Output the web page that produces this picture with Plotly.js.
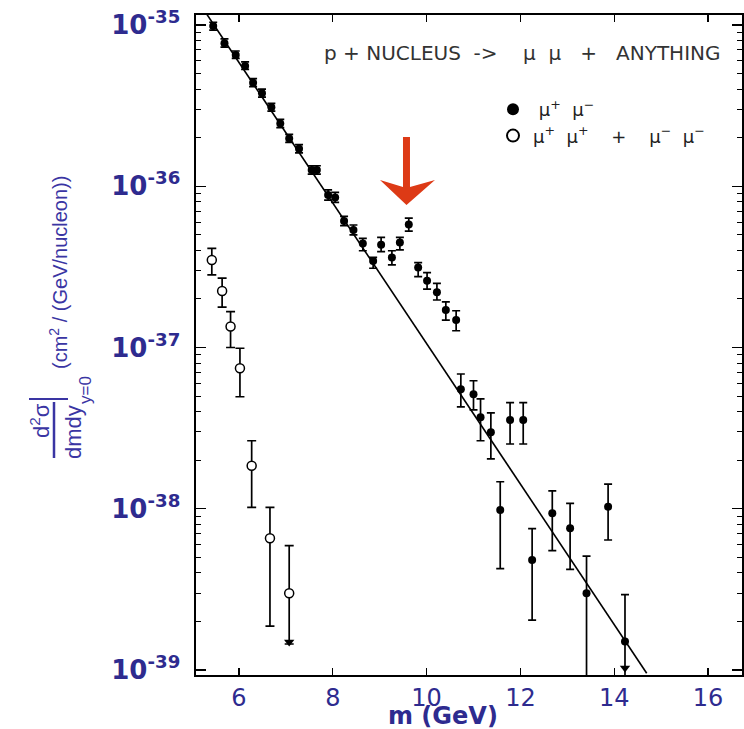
<!DOCTYPE html>
<html>
<head>
<meta charset="utf-8">
<script src="https://cdn.plot.ly/plotly-3.0.1.min.js"></script>
<style>html,body{margin:0;padding:0;background:#fff;}#chart{width:744px;height:729px;}</style>
</head>
<body>
<div id="chart"></div>
<script>
// ---- data: opposite-sign pairs (mu+ mu-) ----
const oppMass = [5.45,5.69,5.93,6.13,6.30,6.49,6.69,6.88,7.07,7.28,7.55,7.66,7.90,8.05,8.24,8.44,8.64,8.86,9.03,9.26,9.43,9.62,9.82,10.01,10.22,10.41,10.63,10.73,11.00,11.15,11.37,11.57,11.78,12.06,12.25,12.68,13.06,13.41,13.87,14.23];
const oppSigma = [9.86e-36,7.71e-36,6.52e-36,5.57e-36,4.39e-36,3.78e-36,3.09e-36,2.45e-36,1.98e-36,1.71e-36,1.26e-36,1.26e-36,8.83e-37,8.53e-37,6.08e-37,5.36e-37,4.42e-37,3.44e-37,4.33e-37,3.62e-37,4.48e-37,5.79e-37,3.13e-37,2.59e-37,2.20e-37,1.71e-37,1.48e-37,5.51e-38,5.13e-38,3.69e-38,2.98e-38,9.82e-39,3.55e-38,3.55e-38,4.81e-39,9.38e-39,7.57e-39,2.99e-39,1.03e-38,1.50e-39];
const oppHigh = [1.04e-35,8.2e-36,6.9e-36,5.9e-36,4.65e-36,4.0e-36,3.27e-36,2.6e-36,2.1e-36,1.81e-36,1.34e-36,1.34e-36,9.5e-37,9.15e-37,6.5e-37,5.75e-37,4.75e-37,3.62e-37,4.82e-37,3.98e-37,4.82e-37,6.35e-37,3.36e-37,2.91e-37,2.50e-37,1.92e-37,1.69e-37,6.85e-38,6.22e-38,4.80e-38,3.93e-38,1.47e-38,4.55e-38,4.55e-38,7.52e-39,1.29e-38,1.08e-38,5.09e-39,1.42e-38,2.93e-39];
const oppLow = [9.3e-36,7.3e-36,6.2e-36,5.3e-36,4.15e-36,3.57e-36,2.92e-36,2.31e-36,1.87e-36,1.61e-36,1.19e-36,1.19e-36,8.2e-37,7.95e-37,5.7e-37,5.0e-37,3.98e-37,3.10e-37,3.93e-37,3.25e-37,4.03e-37,5.27e-37,2.75e-37,2.30e-37,1.97e-37,1.48e-37,1.27e-37,4.28e-38,4.10e-38,2.64e-38,2.04e-38,4.25e-39,2.52e-38,2.52e-38,2.04e-39,5.50e-39,4.21e-39,5e-40,6.40e-39,5e-40];

// ---- data: like-sign pairs (mu+ mu+ + mu- mu-) ----
const likeMass = [5.42,5.64,5.82,6.02,6.27,6.66,7.07];
const likeSigma = [3.49e-37,2.24e-37,1.35e-37,7.43e-38,1.85e-38,6.56e-39,2.99e-39];
const likeHigh = [4.12e-37,2.69e-37,1.67e-37,9.89e-38,2.64e-38,1.02e-38,5.90e-39];
const likeLow = [2.82e-37,1.78e-37,1.00e-37,4.95e-38,1.02e-38,1.87e-39,1.45e-39];

// ---- upper-limit arrow heads ----
const limitMass = [7.07, 14.23];
const limitSigma = [1.49e-39, 1.03e-39];

// ---- fitted continuum line (end points) ----
const fitMass = [5.205, 14.693];
const fitSigma = [1.30e-35, 9.54e-40];

// ---- axis ticks ----
const yTickVals = [1e-39,1e-38,1e-37,1e-36,1e-35];
const yTickText = ['10<sup>-39</sup>','10<sup>-38</sup>','10<sup>-37</sup>','10<sup>-36</sup>','10<sup>-35</sup>'];
const xTickVals = [6,8,10,12,14,16];

const BLUE = '#2e2b8f';
const L = 196, R = 742, T = 15, B = 675;
const W = R - L, H = B - T;
function px(x){ return (x - L) / W; }
function py(y){ return (B - y) / H; }
function P(x,y){ return px(x).toFixed(4) + ',' + py(y).toFixed(4); }
const S = '\u00a0';
function sp(n){ return S.repeat(n); }

const minorVals = [];
for (let e = -40; e <= -35; e++) for (let k = 2; k <= 9; k++) minorVals.push(k * Math.pow(10, e));

const traces = [
  {
    x: fitMass, y: fitSigma, mode: 'lines', type: 'scatter', showlegend: false,
    line: {color: '#000', width: 1.6}, hoverinfo: 'skip'
  },
  {
    x: oppMass, y: oppSigma, mode: 'markers', type: 'scatter',
    name: sp(1) + 'μ<sup>+</sup>' + sp(2) + 'μ<sup>−</sup>',
    marker: {symbol: 'circle', size: 8, color: '#000'},
    error_y: {type: 'data', symmetric: false,
      array: oppHigh.map((h,i) => h - oppSigma[i]),
      arrayminus: oppLow.map((l,i) => oppSigma[i] - l),
      color: '#000', thickness: 1.7, width: 4}
  },
  {
    x: likeMass, y: likeSigma, mode: 'markers', type: 'scatter',
    name: 'μ<sup>+</sup>' + sp(2) + 'μ<sup>+</sup>' + sp(4) + '+' + sp(4) + 'μ<sup>−</sup>' + sp(2) + 'μ<sup>−</sup>',
    marker: {symbol: 'circle', size: 9, color: '#fff', line: {color: '#000', width: 1.5}},
    error_y: {type: 'data', symmetric: false,
      array: likeHigh.map((h,i) => h - likeSigma[i]),
      arrayminus: likeLow.map((l,i) => likeSigma[i] - l),
      color: '#000', thickness: 1.7, width: 4.5}
  },
  {
    x: limitMass, y: limitSigma, mode: 'markers', type: 'scatter', showlegend: false,
    marker: {symbol: 'triangle-down', size: 9, color: '#000'}, hoverinfo: 'skip'
  }
];

const arrowPath = 'M' + P(403,137) + ' L' + P(410,137) + ' L' + P(410,187) + ' L' + P(435,180) +
  ' L' + P(406.5,205) + ' L' + P(380,180) + ' L' + P(403,187) + ' Z';

const TF = '"Liberation Sans", Arial, sans-serif';
const TC = '#3a35a3';

const layout = {
  width: 744, height: 729,
  margin: {l: L, r: 744 - R, t: T, b: 729 - B, pad: 0},
  paper_bgcolor: '#fff', plot_bgcolor: '#fff',
  font: {family: '"DejaVu Sans", sans-serif', color: BLUE},
  showlegend: true,
  legend: {x: px(493), y: py(91), xanchor: 'left', yanchor: 'top', bgcolor: 'rgba(0,0,0,0)',
    itemsizing: 'constant',
    font: {size: 18, color: '#222', family: '"DejaVu Sans", sans-serif'}, tracegroupgap: 0},
  xaxis: {
    range: [5.083, 16.725], tickmode: 'array', tickvals: xTickVals,
    ticks: 'inside', ticklen: 7, tickwidth: 1.3, tickcolor: '#000',
    showline: true, linewidth: 2, linecolor: '#000', mirror: 'ticks',
    showgrid: false, zeroline: false,
    tickfont: {size: 24, color: BLUE, family: '"DejaVu Sans", sans-serif'}
  },
  yaxis: {
    type: 'log', range: [-39.031, -34.938], tickmode: 'array',
    tickvals: yTickVals, ticktext: yTickText,
    ticks: 'inside', ticklen: 10, tickwidth: 1.3, tickcolor: '#000',
    showline: true, linewidth: 2.5, linecolor: '#000', mirror: 'ticks',
    showgrid: false, zeroline: false, ticklabelstandoff: 8,
    minor: {tickvals: minorVals, ticks: 'inside', ticklen: 5, tickwidth: 1, tickcolor: '#000', showgrid: false},
    tickfont: {size: 26, color: BLUE, family: '"DejaVu Sans", sans-serif', weight: 'bold'}
  },
  shapes: [
    {type: 'path', xref: 'paper', yref: 'paper', path: arrowPath, fillcolor: '#dd3a16', line: {width: 0}},
    {type: 'line', xref: 'paper', yref: 'paper', x0: px(54), x1: px(54), y0: py(402), y1: py(458), line: {color: TC, width: 2.5}},
    {type: 'line', xref: 'paper', yref: 'paper', x0: px(29), x1: px(68), y0: py(399), y1: py(399), line: {color: TC, width: 2}}
  ],
  annotations: [
    {xref: 'paper', yref: 'paper', x: px(322), y: py(53), xanchor: 'left', yanchor: 'middle', showarrow: false,
      text: 'p' + sp(1) + '+' + sp(1) + 'NUCLEUS' + sp(2) + '->' + sp(4) + 'μ' + sp(2) + 'μ' + sp(3) + '+' + sp(3) + 'ANYTHING',
      font: {size: 20, color: '#333', family: '"DejaVu Sans", sans-serif'}},
    {xref: 'paper', yref: 'paper', x: px(443), y: py(716), xanchor: 'center', yanchor: 'middle', showarrow: false,
      text: '<b>m (GeV)</b>', font: {size: 24, color: BLUE, family: '"DejaVu Sans", sans-serif'}},
    {xref: 'paper', yref: 'paper', x: px(58), y: py(273), xanchor: 'center', yanchor: 'middle', showarrow: false,
      textangle: -90, text: '(cm<sup>2</sup> / (GeV/nucleon))', font: {size: 20, color: TC, family: TF}},
    {xref: 'paper', yref: 'paper', x: px(40), y: py(421), xanchor: 'center', yanchor: 'middle', showarrow: false,
      textangle: -90, text: 'd<sup>2</sup>σ', font: {size: 22, color: TC, family: TF}},
    {xref: 'paper', yref: 'paper', x: px(73), y: py(432), xanchor: 'center', yanchor: 'middle', showarrow: false,
      textangle: -90, text: 'dmdy', font: {size: 22, color: TC, family: TF}},
    {xref: 'paper', yref: 'paper', x: px(86), y: py(390), xanchor: 'center', yanchor: 'middle', showarrow: false,
      textangle: -90, text: 'y=0', font: {size: 17, color: TC, family: TF}}
  ]
};

Plotly.newPlot('chart', traces, layout, {displayModeBar: false, staticPlot: true});
</script>
</body>
</html>
